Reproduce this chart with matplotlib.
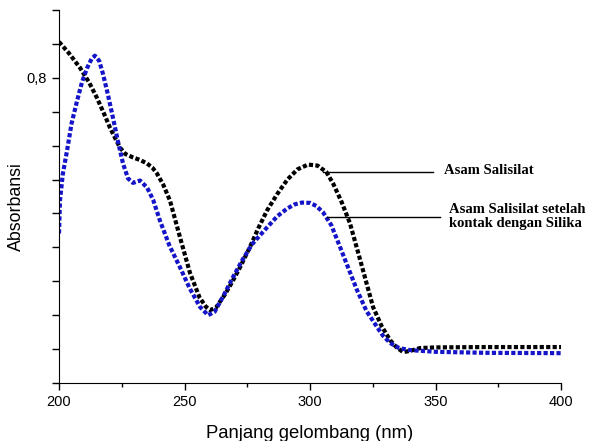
import numpy as np
import matplotlib
matplotlib.use('Agg')
import matplotlib.pyplot as plt
from matplotlib.ticker import MultipleLocator, FuncFormatter

# Asam Salisilat (hitam)
x_as = [200, 204, 208.4, 212, 215.1, 218, 220.3, 222.5, 224.3, 226.5, 229.5, 232.5, 235.1,
        237.2, 239.0, 241.5, 244.2, 248, 252.2, 256, 258.5, 260.2, 262.5, 266, 269, 272.1,
        276, 279.5, 282.9, 287, 291, 295, 299.2, 303, 306.5, 309.2, 312.5, 315.9, 320,
        325.1, 328.5, 331.9, 334.5, 337.1, 340, 343.8, 350, 370, 400]
y_as = [0.906, 0.872, 0.829, 0.786, 0.741, 0.693, 0.653, 0.620, 0.594, 0.575, 0.565, 0.557,
        0.547, 0.535, 0.518, 0.485, 0.438, 0.335, 0.224, 0.152, 0.125, 0.115, 0.122, 0.160,
        0.198, 0.241, 0.300, 0.358, 0.409, 0.458, 0.500, 0.530, 0.544, 0.541, 0.522, 0.488,
        0.435, 0.371, 0.262, 0.124, 0.068, 0.026, 0.005, -0.009, -0.005, 0.003, 0.005,
        0.006, 0.006]

# Asam Salisilat setelah kontak dengan Silika (biru)
x_sil = [200, 200.4, 201.5, 203.2, 205, 207.2, 209.2, 211.2, 213, 214.3, 216, 217.5, 219.5,
         221.5, 223.5, 225.5, 227.5, 229.5, 232.3, 235.1, 237.5, 240.2, 244, 248.2, 252,
         256.2, 259.4, 262, 265.5, 269.3, 273, 277, 282.9, 287, 291, 294, 296.8, 300,
         302.5, 305.2, 308.5, 312.0, 315.5, 318.7, 322.5, 326.7, 329, 331.9, 335.5, 339.8,
         350, 370, 400]
y_sil = [0.341, 0.438, 0.515, 0.585, 0.665, 0.732, 0.788, 0.829, 0.856, 0.865, 0.850, 0.812,
         0.750, 0.682, 0.612, 0.547, 0.503, 0.490, 0.497, 0.476, 0.440, 0.379, 0.305, 0.241,
         0.180, 0.124, 0.100, 0.110, 0.157, 0.212, 0.262, 0.310, 0.359, 0.392, 0.415, 0.427,
         0.432, 0.431, 0.422, 0.403, 0.365, 0.300, 0.234, 0.174, 0.112, 0.065, 0.040, 0.018,
         0.003, -0.003, -0.008, -0.011, -0.012]

fig = plt.figure(figsize=(5.9, 4.41), dpi=100)
ax = fig.add_axes([0.1, 0.1315, 0.851, 0.846])

dots = (0, (1.0, 0.55))
ax.plot(x_as, y_as, color='black', lw=3, linestyle=dots, dash_capstyle='butt')
ax.plot(x_sil, y_sil, color='#1414c8', lw=3, linestyle=dots, dash_capstyle='butt')

ax.set_xlim(200, 400)
ax.set_ylim(-0.1, 1.0)

# sumbu gaya Origin: hanya kiri dan bawah
ax.spines['top'].set_visible(False)
ax.spines['right'].set_visible(False)
ax.xaxis.set_major_locator(MultipleLocator(50))
ax.xaxis.set_minor_locator(MultipleLocator(25))
ax.yaxis.set_major_locator(MultipleLocator(0.1))
ax.yaxis.set_major_formatter(FuncFormatter(lambda v, p: '0,8' if abs(v - 0.8) < 1e-6 else ''))
ax.tick_params(axis='both', which='major', direction='out', length=5, width=1, labelsize=10.5)
ax.tick_params(axis='x', which='minor', direction='out', length=3, width=1)
for lab in ax.get_xticklabels() + ax.get_yticklabels():
    lab.set_fontfamily('Liberation Sans')

ax.set_xlabel('Panjang gelombang (nm)', fontsize=13.3, family='Liberation Sans', labelpad=12)
ax.set_ylabel('Absorbansi', fontsize=12.8, family='Liberation Sans')
ax.yaxis.set_label_coords(-0.068, 0.472)

# label keterangan
ax.plot([305.2, 349.0], [0.521, 0.521], color='black', lw=1)
ax.text(353.4, 0.526, 'Asam Salisilat', family='Liberation Serif', weight='bold',
        fontsize=10.5, ha='left', va='center')
ax.plot([306.8, 351.8], [0.388, 0.388], color='black', lw=1)
ax.text(355.4, 0.391, 'Asam Salisilat setelah\nkontak dengan Silika', family='Liberation Serif',
        weight='bold', fontsize=10.5, ha='left', va='center', linespacing=1.15)

fig.savefig('out.png', dpi=100)
